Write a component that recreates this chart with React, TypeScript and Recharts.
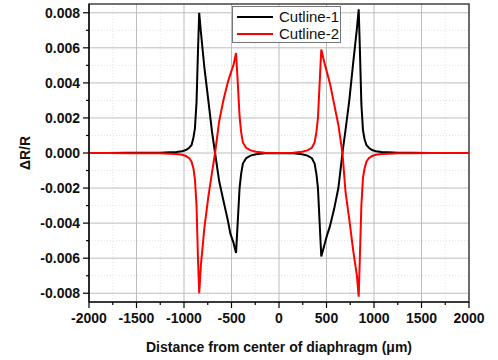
import { LineChart, Line, XAxis, YAxis, CartesianGrid, ReferenceArea } from "recharts";

// distance from diaphragm centre (µm)
const xs = [
  -2000, -1800, -1600, -1400, -1250, -1150, -1080, -1020, -980, -945, -920, -900,
  -885, -868, -853, -840, -822, -786, -744, -705, -673, -630, -586, -540,
  -512, -480, -452, -435, -415, -399, -380, -346, -300, -241, -150, 0,
  150, 241, 300, 346, 375, 394, 410, 428, 445, 475, 505, 535,
  580, 625, 668, 700, 740, 782, 820, 839, 852, 867, 884, 900,
  920, 945, 980, 1020, 1080, 1150, 1250, 1400, 1600, 1800, 2000,
];

const cutline1 = [
  0, 0, 0.00001, 0.00001, 0.00002, 0.00004, 0.00006, 0.0001, 0.00017, 0.0003, 0.00046, 0.0009,
  0.0014, 0.0029, 0.0058, 0.008, 0.0069, 0.0049, 0.003, 0.0012, 0, -0.0016, -0.0027, -0.0038,
  -0.0046, -0.0051, -0.0057, -0.004, -0.002, -0.0012, -0.0006, -0.0003, -0.00015, -0.00007, -0.00002, 0,
  -0.00002, -0.00007, -0.00015, -0.0003, -0.0006, -0.0012, -0.002, -0.004, -0.0059, -0.0053, -0.0047, -0.0042,
  -0.0032, -0.002, 0, 0.0013, 0.003, 0.0052, 0.0071, 0.0082, 0.0058, 0.0028, 0.0013, 0.0008,
  0.00046, 0.0003, 0.00017, 0.0001, 0.00006, 0.00004, 0.00002, 0.00001, 0, 0, 0,
];

const cutline2 = [
  0, 0, -0.00001, -0.00001, -0.00002, -0.00004, -0.00006, -0.0001, -0.00017, -0.0003, -0.0005, -0.0009,
  -0.0015, -0.003, -0.006, -0.008, -0.0064, -0.0043, -0.0025, -0.0011, 0, 0.0018, 0.003, 0.004,
  0.0045, 0.005, 0.0057, 0.0041, 0.0021, 0.0012, 0.0006, 0.0003, 0.00015, 0.00007, 0.00002, 0,
  0.00002, 0.00007, 0.00015, 0.0003, 0.0006, 0.0012, 0.002, 0.004, 0.0059, 0.0052, 0.0046, 0.004,
  0.0028, 0.0016, 0, -0.0022, -0.0038, -0.0056, -0.007, -0.0082, -0.0058, -0.003, -0.0014, -0.0009,
  -0.0005, -0.0003, -0.00017, -0.0001, -0.00006, -0.00004, -0.00002, -0.00001, 0, 0, 0,
];

const xMajor = [-2000, -1500, -1000, -500, 0, 500, 1000, 1500, 2000];
const xMinor = [-1750, -1250, -750, -250, 250, 750, 1250, 1750];
const yMajor = [-0.008, -0.006, -0.004, -0.002, 0, 0.002, 0.004, 0.006, 0.008];
const yMinor = [-0.007, -0.005, -0.003, -0.001, 0.001, 0.003, 0.005, 0.007];

const seriesNames = ["Cutline-1", "Cutline-2"];
const seriesColors = ["#000000", "#ff0000"];

const data = xs.map((x, i) => ({ x, c1: cutline1[i], c2: cutline2[i] }));

const FONT = "'Liberation Sans', Arial, sans-serif";

const isMajor = (v: number, list: number[]) => list.some((m) => Math.abs(m - v) < 1e-9);

function XTick(props: any) {
  const { x, y, payload } = props;
  const major = isMajor(payload.value, xMajor);
  return (
    <g>
      <line x1={x} x2={x} y1={y} y2={y + (major ? 6 : 3)} stroke="#000" strokeWidth={1.2} />
      {major && (
        <text x={x} y={y + 21} textAnchor="middle" fontSize={14} fontWeight="bold" fontFamily={FONT} fill="#111">
          {payload.value}
        </text>
      )}
    </g>
  );
}

function YTick(props: any) {
  const { x, y, payload } = props;
  const major = isMajor(payload.value, yMajor);
  return (
    <g>
      <line x1={x} x2={x - (major ? 6 : 3)} y1={y} y2={y} stroke="#000" strokeWidth={1.2} />
      {major && (
        <text x={x - 9} y={y + 5} textAnchor="end" fontSize={14} fontWeight="bold" fontFamily={FONT} fill="#111">
          {payload.value.toFixed(3)}
        </text>
      )}
    </g>
  );
}

export default function App() {
  return (
    <div style={{ position: "absolute", left: 0, top: 0, width: 498, height: 360, background: "#fff" }}>
      <LineChart width={498} height={360} data={data} margin={{ top: 4, right: 29, bottom: 0, left: 0 }}>
        <CartesianGrid horizontalValues={yMinor} verticalValues={xMinor} stroke="#e4e4e4" strokeDasharray="1 2" />
        <CartesianGrid horizontalValues={yMajor} verticalValues={xMajor} stroke="#bdbdbd" />
        <XAxis
          dataKey="x"
          type="number"
          domain={[-2000, 2000]}
          ticks={[...xMajor, ...xMinor].sort((a, b) => a - b)}
          interval={0}
          tick={<XTick />}
          tickLine={false}
          tickSize={0}
          tickMargin={0}
          height={58}
          stroke="#000"
          strokeWidth={1.2}
          label={{
            value: "Distance from center of diaphragm (\u03bcm)",
            position: "insideBottom",
            offset: 8,
            style: { fontSize: 14, fontWeight: "bold", fontFamily: FONT, fill: "#111" },
          }}
        />
        <YAxis
          type="number"
          domain={[-0.0085, 0.0085]}
          allowDataOverflow
          ticks={[...yMajor, ...yMinor].sort((a, b) => a - b)}
          interval={0}
          tick={<YTick />}
          tickLine={false}
          tickSize={0}
          tickMargin={0}
          width={89}
          stroke="#000"
          strokeWidth={1.2}
          label={{
            value: "\u0394R/R",
            angle: -90,
            position: "insideLeft",
            offset: 25,
            style: { fontSize: 14, fontWeight: "bold", fontFamily: FONT, fill: "#111", textAnchor: "middle" },
          }}
        />
        <ReferenceArea x1={-2000} x2={2000} y1={-0.0085} y2={0.0085} fill="none" stroke="#444" strokeWidth={1.5} />
        <Line type="linear" dataKey="c1" name={seriesNames[0]} stroke={seriesColors[0]} strokeWidth={2} dot={false} isAnimationActive={false} />
        <Line type="linear" dataKey="c2" name={seriesNames[1]} stroke={seriesColors[1]} strokeWidth={2} dot={false} isAnimationActive={false} />
      </LineChart>
      <div
        style={{
          position: "absolute",
          left: 232,
          top: 6,
          width: 107,
          height: 35,
          border: "1px solid #777",
          background: "#fff",
          fontFamily: FONT,
          fontSize: 15,
          color: "#111",
        }}
      >
        {seriesNames.map((name, i) => (
          <div key={name} style={{ position: "absolute", left: 4, top: 1 + i * 17, height: 17, display: "flex", alignItems: "center" }}>
            <svg width={38} height={4} style={{ marginRight: 4 }}>
              <line x1={0} x2={36} y1={2} y2={2} stroke={seriesColors[i]} strokeWidth={2} />
            </svg>
            <span>{name}</span>
          </div>
        ))}
      </div>
    </div>
  );
}
